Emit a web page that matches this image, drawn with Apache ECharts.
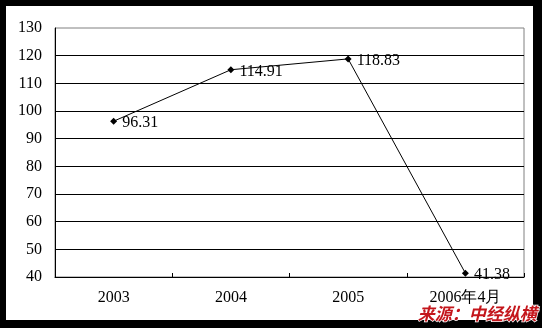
<!DOCTYPE html>
<html>
<head>
<meta charset="utf-8">
<style>
html,body{margin:0;padding:0;background:#fff;}
#chart{width:542px;height:328px;}
</style>
<script src="https://cdn.jsdelivr.net/npm/echarts@6/dist/echarts.min.js"></script>
</head>
<body>
<div id="chart"></div>
<script>
var categories = ['2003', '2004', '2005', '2006年4月'];
var values = [96.31, 114.91, 118.83, 41.38];
var yMin = 40, yMax = 130, yStep = 10;
var sourceText = '来源：中经纵横';

var chart = echarts.init(document.getElementById('chart'), null, {renderer: 'canvas'});
var serif = '"Liberation Serif", "Times New Roman", serif';
chart.setOption({
  backgroundColor: '#fff',
  animation: false,
  grid: {left: 55, top: 28, width: 469, height: 249, show: true, borderColor: '#808080', borderWidth: 1, backgroundColor: 'transparent'},
  xAxis: {
    type: 'category',
    data: categories,
    boundaryGap: true,
    axisLine: {lineStyle: {color: '#000', width: 1}},
    axisTick: {show: true, inside: true, length: 4, lineStyle: {color: '#000'}},
    axisLabel: {color: '#000', fontFamily: serif, fontSize: 16, margin: 13},
    splitLine: {show: false}
  },
  yAxis: {
    type: 'value',
    min: yMin, max: yMax, interval: yStep,
    axisLine: {show: true, lineStyle: {color: '#000', width: 1}},
    axisTick: {show: false},
    axisLabel: {color: '#000', fontFamily: serif, fontSize: 16, margin: 13},
    splitLine: {show: true, showMaxLine: false, lineStyle: {color: '#000', width: 1}}
  },
  series: [{
    type: 'line',
    data: values,
    symbol: 'diamond',
    symbolSize: 7,
    lineStyle: {color: '#000', width: 1},
    itemStyle: {color: '#000'},
    label: {show: true, position: 'right', distance: 5, offset: [0, 2], color: '#000', fontFamily: serif, fontSize: 16,
      formatter: function (p) { return p.value.toFixed(2); }}
  }],
  graphic: [
    {type: 'rect', left: 0, top: 0, shape: {width: 542, height: 6}, style: {fill: '#000'}, z: 100},
    {type: 'rect', left: 0, top: 0, shape: {width: 6, height: 328}, style: {fill: '#000'}, z: 100},
    {type: 'rect', left: 533, top: 0, shape: {width: 9, height: 328}, style: {fill: '#000'}, z: 100},
    {type: 'rect', left: 0, top: 320, shape: {width: 542, height: 8}, style: {fill: '#000'}, z: 100},
    {type: 'text', left: 417, top: 304, z: 110, style: {text: sourceText, fill: '#c4161c', stroke: '#fff', lineWidth: 1.5,
      font: 'italic bold 17px "Noto Sans CJK SC", sans-serif'}}
  ]
});
</script>
</body>
</html>
